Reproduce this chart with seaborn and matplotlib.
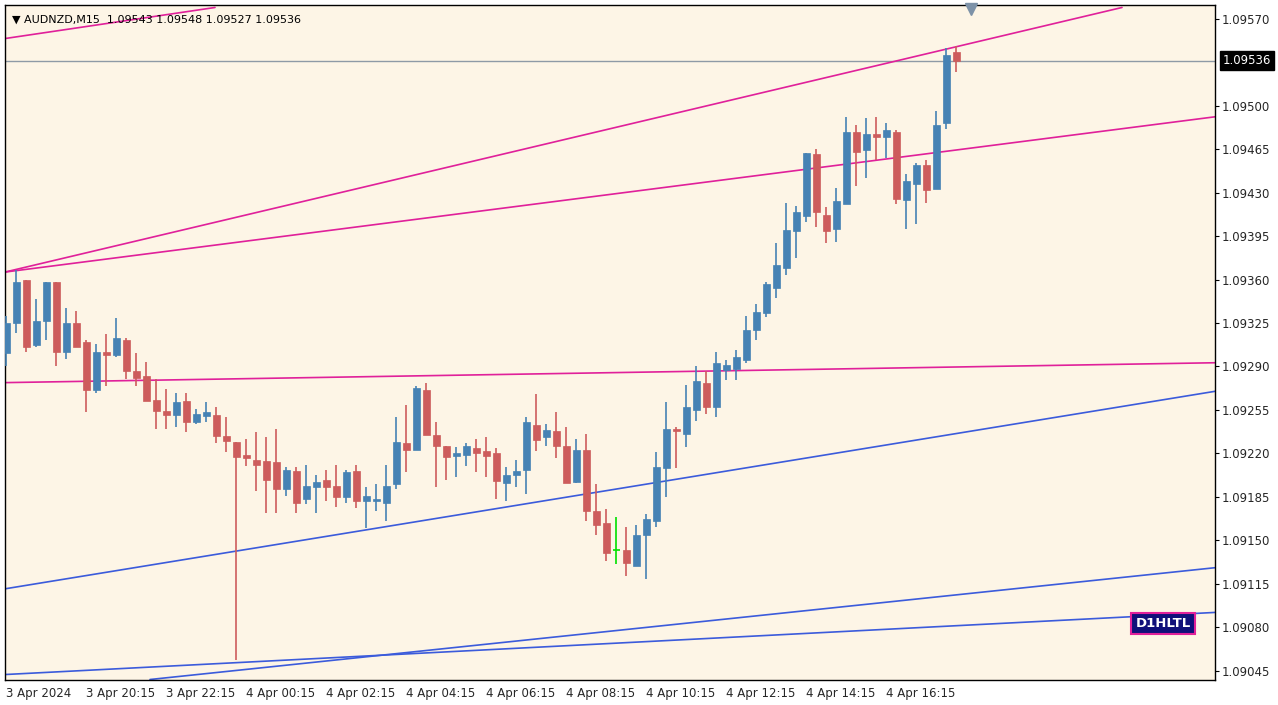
import numpy as np
import pandas as pd
import matplotlib
matplotlib.use("Agg")
import matplotlib.pyplot as plt
import seaborn as sns

# prices given as last digits: price = 1.0 + v/1e5  (e.g. 9301 -> 1.09301)
open_pts = [9301,9325,9360,9307,9327,9358,9302,9325,9310,9271,9302,9299,9311,9286,9282,9263,9254,9251,9262,9245,
            9250,9251,9234,9229,9219,9215,9214,9213,9191,9206,9183,9193,9199,9194,9185,9206,9182,9182,9180,9195,
            9228,9223,9271,9235,9226,9218,9219,9224,9222,9220,9196,9203,9207,9243,9233,9238,9226,9197,9223,9174,
            9164,9142,9142,9129,9154,9166,9208,9240,9236,9255,9277,9257,9287,9288,9295,9319,9333,9353,9369,9399,
            9411,9461,9412,9401,9421,9479,9464,9477,9475,9479,9424,9437,9452,9433,9486,9543]
high_pts = [9331,9368,9360,9344,9358,9358,9337,9335,9311,9308,9316,9329,9313,9301,9294,9280,9272,9269,9269,9256,
            9261,9257,9249,9229,9232,9237,9233,9240,9209,9209,9211,9203,9207,9211,9207,9211,9193,9195,9211,9249,
            9259,9274,9277,9245,9226,9225,9228,9232,9233,9224,9209,9215,9249,9268,9244,9253,9241,9232,9236,9195,
            9175,9169,9161,9162,9171,9221,9261,9241,9275,9290,9286,9302,9295,9303,9331,9340,9358,9389,9422,9419,
            9462,9465,9418,9434,9491,9484,9490,9491,9486,9480,9445,9454,9456,9496,9546,9548]
low_pts = [9290,9317,9302,9306,9311,9290,9296,9306,9253,9269,9274,9298,9280,9274,9262,9240,9240,9241,9237,9244,
           9245,9228,9221,9054,9210,9190,9172,9172,9186,9172,9179,9172,9182,9177,9180,9176,9160,9174,9166,9191,
           9205,9223,9235,9193,9199,9201,9210,9205,9201,9183,9182,9193,9187,9222,9226,9216,9196,9196,9166,9154,
           9133,9131,9121,9129,9119,9161,9185,9208,9225,9246,9252,9249,9279,9279,9293,9311,9330,9345,9364,9377,
           9406,9402,9389,9390,9421,9435,9442,9456,9458,9421,9401,9405,9422,9433,9481,9527]
close_pts = [9325,9358,9306,9327,9358,9302,9325,9306,9271,9302,9299,9313,9286,9281,9262,9254,9251,9261,9245,9252,
             9253,9234,9230,9217,9216,9211,9199,9191,9207,9180,9194,9197,9193,9185,9205,9182,9186,9183,9194,9229,
             9223,9273,9235,9226,9217,9220,9226,9220,9218,9198,9203,9206,9245,9231,9239,9226,9196,9223,9174,9162,
             9140,9142,9132,9154,9167,9209,9240,9238,9257,9278,9257,9293,9291,9298,9319,9334,9356,9372,9400,9414,
             9462,9414,9399,9423,9479,9463,9477,9475,9480,9425,9439,9452,9432,9484,9541,9536]

tick_labels = ["3 Apr 2024", "3 Apr 20:15", "3 Apr 22:15", "4 Apr 00:15", "4 Apr 02:15", "4 Apr 04:15",
               "4 Apr 06:15", "4 Apr 08:15", "4 Apr 10:15", "4 Apr 12:15", "4 Apr 14:15", "4 Apr 16:15"]
y_ticks = [1.09570, 1.09500, 1.09465, 1.09430, 1.09395, 1.09360, 1.09325, 1.09290,
           1.09255, 1.09220, 1.09185, 1.09150, 1.09115, 1.09080, 1.09045]
bid = 1.09536

# trendlines: (x0 index, price0, x1 index, price1, colour)
trend_x0 = [-0.1, -0.1, -0.1, -0.1, -0.1, -0.1, 14.4]
trend_p0 = [9554, 9366, 9366, 9277, 9111, 9042, 9038]
trend_x1 = [20.9, 111.6, 120.9, 120.9, 120.9, 120.9, 120.9]
trend_p1 = [9579, 9579, 9491, 9293, 9270, 9092, 9128]
trend_c = ["#E0209A"] * 4 + ["#3B5BDB"] * 3

def px(v):
    return 1.0 + np.asarray(v) / 1e5

df = pd.DataFrame({"o": px(open_pts), "h": px(high_pts), "l": px(low_pts), "c": px(close_pts)})
df["i"] = np.arange(len(df))

sns.set_style("white")
plt.rcParams["font.family"] = ["DejaVu Sans"]
bg = "#FDF5E6"
fig = plt.figure(figsize=(12.78, 7.05), dpi=100, facecolor="white")
ax = fig.add_axes([5/1278, 25/705, 1210/1278, 675/705])
ax.set_facecolor(bg)

up_c, dn_c = "#4682B4", "#CD5C5C"
for i, r in df.iterrows():
    ii = int(r.i)
    if abs(r.c - r.o) < 1e-9:
        col = "#00E000"
    else:
        col = up_c if r.c > r.o else dn_c
    ax.vlines(ii, r.l, r.h, color=col, lw=1.2, zorder=3)
    if col == "#00E000":
        ax.hlines(r.o, ii - 0.35, ii + 0.35, color=col, lw=1.2, zorder=3)
    else:
        lo, hi = min(r.o, r.c), max(r.o, r.c)
        ax.bar(ii, max(hi - lo, 0.000012), bottom=lo, width=0.7, color=col, edgecolor=col, lw=0.5, zorder=4)

for x0, p0, x1, p1, c in zip(trend_x0, trend_p0, trend_x1, trend_p1, trend_c):
    sns.lineplot(x=[x0, x1], y=list(px([p0, p1])), color=c, lw=1.2, ax=ax, zorder=2)

ax.axhline(bid, color="#8E9AA6", lw=1.0, zorder=1)

ax.set_xlim(-0.1, 120.9)
ax.set_ylim(1.090376, 1.095810)
ax.yaxis.tick_right()
ax.set_yticks(y_ticks)
ax.set_yticklabels([f"{v:.5f}" for v in y_ticks], fontsize=8.5)
ax.set_xticks(np.arange(0, 96, 8))
ax.set_xticklabels(tick_labels, fontsize=8.5, ha="left")
ax.tick_params(axis="both", length=3, color="black", pad=2)
for s in ax.spines.values():
    s.set_color("black"); s.set_linewidth(1)

ax.text(1.0065, (bid - 1.090376) / (1.095810 - 1.090376), f"{bid:.5f}", transform=ax.transAxes,
        fontsize=8.5, color="white", va="center", ha="left",
        bbox=dict(boxstyle="square,pad=0.25", fc="black", ec="black"))

ax.text(0.006, 0.985, "\u25BC AUDNZD,M15  1.09543 1.09548 1.09527 1.09536", transform=ax.transAxes,
        fontsize=8, va="top", ha="left", color="black")
ax.plot([96.5], [1.09578], marker="v", ms=9, color="#7D92A8", clip_on=False, zorder=5)
ax.text(115.7, 1.09083, "D1HLTL", fontsize=9.5, fontweight="bold", color="white", ha="center", va="center",
        bbox=dict(boxstyle="square,pad=0.3", fc="#10107A", ec="#E0209A", lw=1.5), zorder=6)

fig.savefig("out.png", dpi=100, facecolor="white")
